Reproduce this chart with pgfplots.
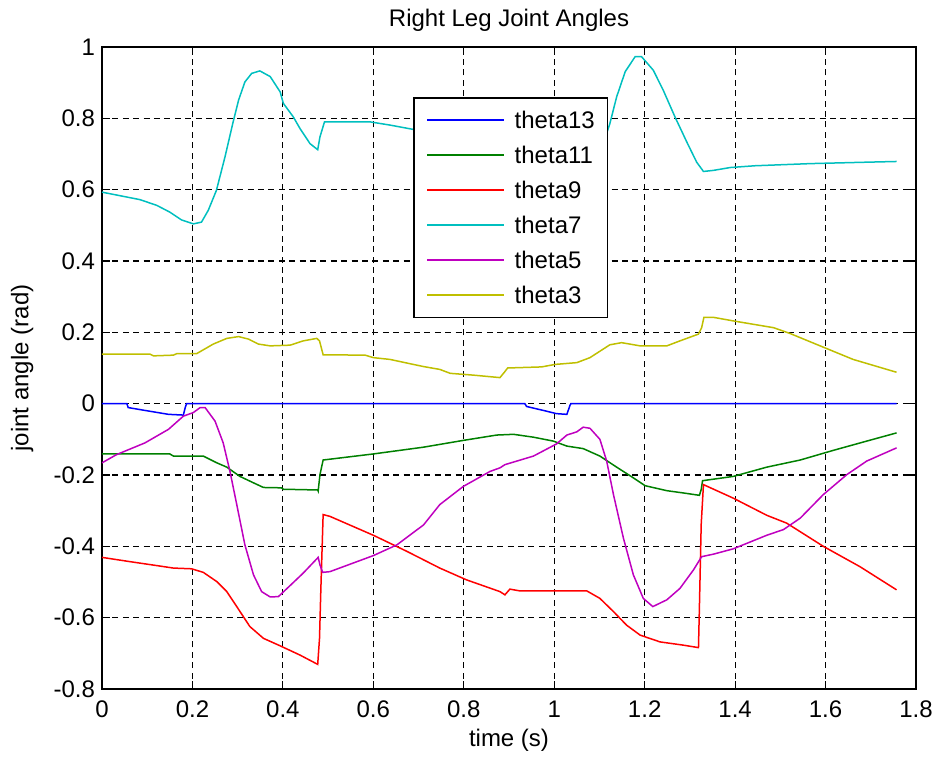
\documentclass[border=0pt]{standalone}
\usepackage{fontspec}
\setmainfont{Liberation Sans}
\usepackage{pgfplots}
\pgfplotsset{compat=1.18}

\definecolor{mblue}{rgb}{0,0,1}
\definecolor{mgreen}{rgb}{0,0.5,0}
\definecolor{mred}{rgb}{1,0,0}
\definecolor{mcyan}{rgb}{0,0.75,0.75}
\definecolor{mmag}{rgb}{0.75,0,0.75}
\definecolor{myel}{rgb}{0.75,0.75,0}

\begin{document}
\begin{tikzpicture}
\begin{axis}[
    scale only axis,
    width=407pt, height=321pt,
    xmin=0, xmax=1.8,
    ymin=-0.8, ymax=1,
    xtick={0,0.2,0.4,0.6,0.8,1,1.2,1.4,1.6,1.8},
    ytick={-0.8,-0.6,-0.4,-0.2,0,0.2,0.4,0.6,0.8,1},
    /pgf/number format/assume math mode=true,
    /pgf/number format/fixed,
    tick label style={font=\fontsize{12}{14}\selectfont},
    xticklabel style={yshift=-2.5pt},
    grid=major,
    major grid style={black, line width=0.6pt, dash pattern=on 3pt off 2.2pt},
    tick align=inside,
    major tick length=4pt,
    tick style={black, line width=0.6pt},
    axis line style={black, line width=0.8pt},
    title={Right Leg Joint Angles},
    title style={at={(axis description cs:0.5,1)}, anchor=base, yshift=4pt,
        font=\fontsize{12}{14}\selectfont},
    xlabel={time (s)},
    xlabel style={at={(axis description cs:0.5,0)}, anchor=base, yshift=-29pt,
        font=\fontsize{12}{14}\selectfont},
    ylabel={joint angle (rad)},
    ylabel style={at={([xshift=-36.75pt]axis description cs:0,0.5)}, anchor=base,
        font=\fontsize{12}{14}\selectfont},
    every axis plot/.append style={line width=0.75pt},
    legend cell align=left,
    legend image code/.code={\path (0pt,0pt) -- (1pt,0pt); \draw[#1] (1pt,0pt) -- (38.5pt,0pt);},
    legend style={at={(axis cs:0.688,0.860)}, anchor=north west,
        draw=black, line width=0.8pt, fill=white,
        inner xsep=6.3pt, inner ysep=6.8pt,
        font=\fontsize{12}{14}\selectfont,
        nodes={inner sep=0pt, text height=8.7pt, text depth=0pt},
        row sep=8.8pt, column sep=4.85pt},
]

\addplot[color=mblue] coordinates {
(0,0)(0.055,0)(0.058,-0.011)(0.095,-0.019)(0.147,-0.030)(0.180,-0.032)(0.184,-0.011)(0.187,0)
(0.935,0)(0.939,-0.008)(0.976,-0.019)(1.005,-0.028)(1.028,-0.030)(1.035,-0.004)(1.037,0)(1.757,0)
};
\addlegendentry{theta13}

\addplot[color=mgreen] coordinates {
(0,-0.141)(0.150,-0.141)(0.158,-0.147)(0.224,-0.147)(0.254,-0.166)(0.276,-0.178)(0.305,-0.204)
(0.335,-0.222)(0.357,-0.235)(0.397,-0.236)(0.401,-0.240)(0.477,-0.242)(0.478,-0.245)(0.482,-0.199)
(0.489,-0.158)(0.600,-0.141)(0.711,-0.122)(0.799,-0.103)(0.873,-0.088)(0.910,-0.086)(0.954,-0.094)
(0.998,-0.105)(1.028,-0.119)(1.064,-0.126)(1.101,-0.147)(1.138,-0.178)(1.175,-0.208)(1.201,-0.230)
(1.249,-0.244)(1.289,-0.251)(1.321,-0.257)(1.325,-0.241)(1.328,-0.216)(1.396,-0.204)(1.470,-0.178)
(1.544,-0.158)(1.617,-0.131)(1.691,-0.105)(1.757,-0.082)
};
\addlegendentry{theta11}

\addplot[color=mred] coordinates {
(0,-0.431)(0.062,-0.443)(0.121,-0.454)(0.158,-0.461)(0.198,-0.463)(0.224,-0.473)(0.254,-0.499)
(0.276,-0.527)(0.298,-0.569)(0.327,-0.625)(0.357,-0.658)(0.394,-0.679)(0.438,-0.705)(0.477,-0.731)
(0.481,-0.658)(0.484,-0.518)(0.489,-0.311)(0.504,-0.316)(0.600,-0.369)(0.674,-0.414)(0.747,-0.461)
(0.806,-0.494)(0.880,-0.527)(0.891,-0.536)(0.902,-0.520)(0.924,-0.525)(1.072,-0.525)(1.101,-0.546)
(1.131,-0.583)(1.160,-0.621)(1.190,-0.649)(1.234,-0.668)(1.285,-0.677)(1.319,-0.684)(1.321,-0.574)
(1.325,-0.339)(1.330,-0.227)(1.396,-0.265)(1.470,-0.313)(1.514,-0.335)(1.595,-0.400)(1.676,-0.457)
(1.757,-0.522)
};
\addlegendentry{theta9}

\addplot[color=mcyan] coordinates {
(0,0.593)(0.084,0.572)(0.121,0.556)(0.150,0.537)(0.176,0.515)(0.202,0.504)(0.220,0.509)(0.235,0.542)
(0.253,0.598)(0.272,0.692)(0.290,0.790)(0.302,0.851)(0.316,0.902)(0.331,0.926)(0.349,0.933)
(0.372,0.917)(0.394,0.874)(0.401,0.842)(0.423,0.804)(0.438,0.771)(0.460,0.729)(0.477,0.712)
(0.482,0.748)(0.492,0.790)(0.593,0.790)(0.637,0.781)(0.688,0.769)(0.80,0.755)(0.95,0.745)
(1.05,0.725)(1.10,0.73)(1.112,0.743)(1.123,0.785)(1.138,0.860)(1.157,0.931)(1.179,0.973)
(1.193,0.973)(1.219,0.935)(1.241,0.879)(1.267,0.804)(1.293,0.734)(1.315,0.677)(1.330,0.651)
(1.352,0.654)(1.389,0.662)(1.444,0.667)(1.566,0.673)(1.691,0.677)(1.757,0.679)
};
\addlegendentry{theta7}

\addplot[color=mmag] coordinates {
(0,-0.166)(0.032,-0.143)(0.095,-0.110)(0.147,-0.072)(0.180,-0.035)(0.202,-0.025)(0.217,-0.011)
(0.228,-0.011)(0.250,-0.049)(0.268,-0.110)(0.283,-0.190)(0.298,-0.283)(0.316,-0.396)(0.335,-0.480)
(0.353,-0.527)(0.372,-0.542)(0.390,-0.541)(0.416,-0.510)(0.445,-0.475)(0.478,-0.431)(0.482,-0.452)
(0.488,-0.473)(0.504,-0.471)(0.600,-0.426)(0.652,-0.396)(0.711,-0.340)(0.747,-0.283)(0.799,-0.232)
(0.858,-0.190)(0.880,-0.180)(0.891,-0.171)(0.954,-0.147)(1.005,-0.113)(1.028,-0.088)(1.050,-0.079)
(1.064,-0.066)(1.079,-0.069)(1.101,-0.100)(1.116,-0.161)(1.131,-0.255)(1.153,-0.377)(1.175,-0.480)
(1.197,-0.546)(1.218,-0.569)(1.249,-0.550)(1.278,-0.518)(1.308,-0.466)(1.326,-0.429)(1.352,-0.422)
(1.396,-0.407)(1.470,-0.369)(1.507,-0.353)(1.544,-0.321)(1.595,-0.255)(1.647,-0.199)(1.691,-0.161)
(1.757,-0.124)
};
\addlegendentry{theta5}

\addplot[color=myel] coordinates {
(0,0.139)(0.106,0.139)(0.114,0.134)(0.158,0.136)(0.165,0.140)(0.209,0.140)(0.246,0.167)(0.276,0.183)
(0.302,0.188)(0.324,0.181)(0.346,0.167)(0.372,0.162)(0.416,0.164)(0.445,0.176)(0.475,0.183)
(0.481,0.176)(0.489,0.137)(0.582,0.136)(0.600,0.129)(0.637,0.124)(0.681,0.112)(0.711,0.104)
(0.747,0.096)(0.770,0.085)(0.821,0.080)(0.880,0.073)(0.891,0.090)(0.897,0.100)(0.972,0.103)
(1.002,0.110)(1.050,0.115)(1.079,0.129)(1.123,0.165)(1.149,0.171)(1.190,0.162)(1.249,0.162)
(1.278,0.176)(1.319,0.195)(1.326,0.213)(1.331,0.242)(1.352,0.242)(1.396,0.232)(1.485,0.213)
(1.521,0.197)(1.588,0.162)(1.661,0.124)(1.757,0.088)
};
\addlegendentry{theta3}

\end{axis}
\pgfresetboundingbox
\path[use as bounding box] ([xshift=-51pt,yshift=-37pt]current axis.south west)
    rectangle ([xshift=11pt,yshift=23.5pt]current axis.north east);
\end{tikzpicture}
\end{document}
